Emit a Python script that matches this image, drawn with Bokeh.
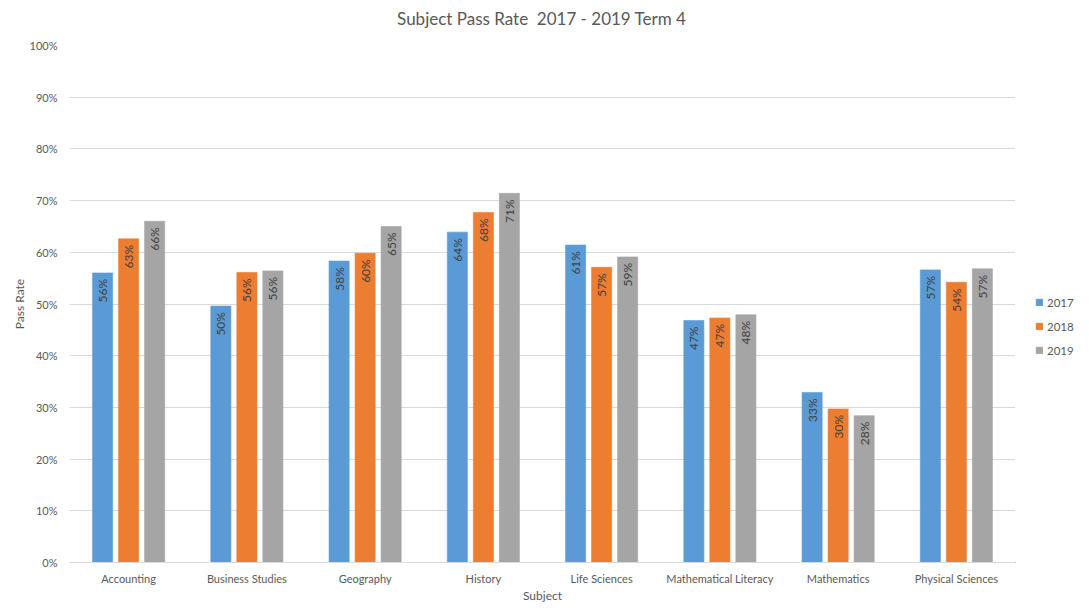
from math import pi

from bokeh.core.properties import value
from bokeh.embed import file_html
from bokeh.layouts import column, row
from bokeh.models import (ColumnDataSource, FixedTicker, Label, Legend,
                          LegendItem, PrintfTickFormatter, Range1d)
from bokeh.plotting import figure
from bokeh.resources import INLINE
from bokeh.transform import dodge

# Pass rates (%) per subject, Term 4
subjects = ["Accounting", "Business Studies", "Geography", "History",
            "Life Sciences", "Mathematical Literacy", "Mathematics",
            "Physical Sciences"]
years = ["2017", "2018", "2019"]
rate_2017 = [56.0, 49.6, 58.3, 63.9, 61.4, 46.8, 32.9, 56.6]
rate_2018 = [62.6, 56.1, 59.8, 67.7, 57.1, 47.3, 29.7, 54.2]
rate_2019 = [66.0, 56.4, 65.0, 71.4, 59.1, 47.9, 28.4, 56.8]
y_ticks = list(range(0, 101, 10))
chart_title = "Subject Pass Rate\u00a0 2017 - 2019 Term 4"

colors = ["#5B9BD5", "#ED7D31", "#A5A5A5"]
offsets = [-0.22, 0.0, 0.22]
FONT = "Lato"
TEXT_GREY = "#595959"

data = {"subject": subjects}
for yr, vals in zip(years, [rate_2017, rate_2018, rate_2019]):
    data["v" + yr] = vals
    data["l" + yr] = [f"{round(v)}%" for v in vals]
source = ColumnDataSource(data)

# Header strip holding the chart title
header = figure(
    width=1089, height=35,
    x_range=Range1d(0, 1), y_range=Range1d(0, 1),
    x_axis_type=None, y_axis_type=None,
    min_border=0, output_backend="svg", toolbar_location=None,
)
header.outline_line_color = None
header.grid.grid_line_color = None
header.add_layout(Label(
    x=0.497, y=0.5, text=chart_title,
    text_align="center", text_baseline="middle",
    text_font=FONT, text_font_size="17px", text_color=TEXT_GREY,
))

p = figure(
    x_range=subjects,
    y_range=Range1d(0, 100),
    width=1015, height=573,
    min_border_left=69, min_border_right=0,
    min_border_top=10, min_border_bottom=46,
    output_backend="svg", toolbar_location=None,
)
p.outline_line_color = None
p.background_fill_color = "white"
p.border_fill_color = "white"

renderers = []
for yr, col, off in zip(years, colors, offsets):
    r = p.vbar(x=dodge("subject", off, range=p.x_range), top="v" + yr,
               width=0.17, source=source, fill_color=col,
               line_color=col, line_alpha=0.6)
    renderers.append(r)
    p.text(x=dodge("subject", off, range=p.x_range), y="v" + yr,
           text="l" + yr, source=source, angle=pi / 2,
           text_align="right", text_baseline="middle", y_offset=6,
           text_font=value(FONT), text_font_size="12px",
           text_color="#404040")

# y axis
p.yaxis.ticker = FixedTicker(ticks=y_ticks)
p.yaxis.formatter = PrintfTickFormatter(format="%d%%")
p.yaxis.axis_line_color = None
p.yaxis.major_tick_line_color = None
p.yaxis.minor_tick_line_color = None
p.yaxis.major_label_standoff = 6
p.yaxis.axis_label = "Pass Rate"
p.yaxis.axis_label_standoff = 0

# x axis
p.xaxis.axis_line_color = "#D9D9D9"
p.xaxis.major_tick_line_color = None
p.xaxis.major_label_standoff = 3
p.xaxis.axis_label = "Subject"
p.xaxis.axis_label_standoff = 0

for ax in (p.xaxis, p.yaxis):
    ax.major_label_text_font = FONT
    ax.major_label_text_font_size = "11px"
    ax.major_label_text_color = TEXT_GREY
    ax.axis_label_text_font = FONT
    ax.axis_label_text_font_size = "12px"
    ax.axis_label_text_font_style = "normal"
    ax.axis_label_text_color = TEXT_GREY

p.xgrid.grid_line_color = None
p.ygrid.grid_line_color = "#D9D9D9"
p.ygrid.grid_line_width = 1

# Narrow side panel that carries the year legend; its key glyphs sit
# outside the visible range so only the legend swatches show.
side = figure(
    width=74, height=573,
    x_range=Range1d(0, 1), y_range=Range1d(0, 1),
    x_axis_type=None, y_axis_type=None,
    min_border=0, output_backend="svg", toolbar_location=None,
)
side.outline_line_color = None
side.grid.grid_line_color = None
key_renderers = [
    side.vbar(x=[-5], top=[-5], bottom=[-6], width=0.1,
              fill_color=col, line_color=col)
    for col in colors
]
legend = Legend(
    items=[LegendItem(label=yr, renderers=[r]) for yr, r in zip(years, key_renderers)],
    location=(20, 202),
    border_line_color=None,
    background_fill_alpha=0,
    glyph_width=8, glyph_height=8,
    label_text_font=FONT, label_text_font_size="11.5px",
    label_text_color=TEXT_GREY,
    label_standoff=4, spacing=4, label_height=20,
    padding=0, margin=0,
)
side.add_layout(legend, "center")

layout = column(header, row(p, side))
open("out.html", "w").write(file_html(layout, INLINE))
